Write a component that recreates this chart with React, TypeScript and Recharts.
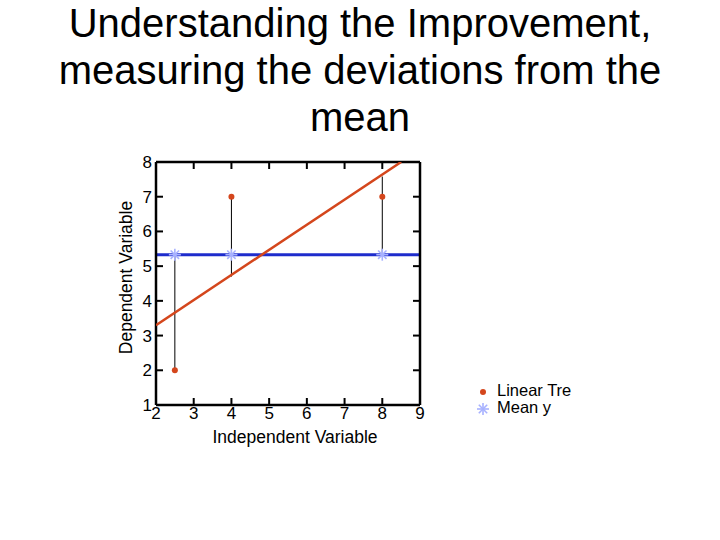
import { ComposedChart, Scatter, XAxis, YAxis, ReferenceLine } from 'recharts';

const FONT = '"Liberation Sans", Arial, sans-serif';

// observed points
const pointX = [2.5, 4, 8];
const pointY = [2, 7, 7];

// mean of y, drawn as a flat line plus markers at each x
const meanY = 5.33;
const meanX = [2.5, 4, 8];

// fitted trend, end points
const trendX = [2, 8.5];
const trendY = [3.3, 8];

// vertical deviation segments
const devX = [2.5, 4, 8];
const devFrom = [2, 4.7, 5.33];
const devTo = [5.33, 7, 7.58];

const xTicks = [2, 3, 4, 5, 6, 7, 8, 9];
const yTicks = [1, 2, 3, 4, 5, 6, 7, 8];

const RED = '#d4461c';
const BLUE = '#1e2ccc';
const STAR = '#a8b2ff';

const points = pointX.map((x, i) => ({ x, y: pointY[i] }));
const means = meanX.map((x) => ({ x, y: meanY }));
const trend = trendX.map((x, i) => ({ x, y: trendY[i] }));

const Asterisk = (props: any) => {
  const { cx, cy } = props;
  const r = 6;
  return (
    <g stroke={STAR} strokeWidth={1.6}>
      <line x1={cx - r} y1={cy} x2={cx + r} y2={cy} />
      <line x1={cx} y1={cy - r} x2={cx} y2={cy + r} />
      <line x1={cx - r * 0.7} y1={cy - r * 0.7} x2={cx + r * 0.7} y2={cy + r * 0.7} />
      <line x1={cx - r * 0.7} y1={cy + r * 0.7} x2={cx + r * 0.7} y2={cy - r * 0.7} />
    </g>
  );
};

const Dot = (props: any) => <circle cx={props.cx} cy={props.cy} r={3} fill={RED} />;
const NoShape = () => <g />;
const NoTick = () => <g />;

const tickStyle = { fontSize: 17, fill: '#000', fontFamily: FONT };
const frame = { stroke: '#000', strokeWidth: 2.5 };
const tickMark = { stroke: '#000', strokeWidth: 2 };

export default function App() {
  return (
    <div style={{ position: 'absolute', left: 0, top: 0, width: 720, height: 540, background: '#fff', fontFamily: FONT }}>
      <div
        style={{
          position: 'absolute',
          top: 0,
          left: 0,
          width: 720,
          textAlign: 'center',
          fontSize: 40,
          lineHeight: '47px',
          color: '#000',
        }}
      >
        Understanding the Improvement,
        <br />
        measuring the deviations from the
        <br />
        mean
      </div>

      <div style={{ position: 'absolute', left: 0, top: 0 }}>
        <ComposedChart width={720} height={540} margin={{ top: 162, right: 300, bottom: 105, left: 116 }}>
          {/* labelled axes */}
          <XAxis
            dataKey="x"
            type="number"
            domain={[2, 9]}
            ticks={xTicks}
            allowDataOverflow
            height={30}
            axisLine={frame}
            tickLine={false}
            tickSize={0}
            tickMargin={2}
            tick={tickStyle}
            label={{ value: 'Independent Variable', position: 'insideBottom', offset: -8, dx: 7, fontSize: 17.5, fill: '#000', fontFamily: FONT }}
          />
          <YAxis
            dataKey="y"
            type="number"
            domain={[1, 8]}
            ticks={yTicks}
            allowDataOverflow
            width={40}
            axisLine={frame}
            tickLine={false}
            tickSize={0}
            tickMargin={4}
            tick={tickStyle}
            label={{ value: 'Dependent Variable', angle: -90, position: 'insideLeft', offset: 10, dy: -6, fontSize: 17.5, fill: '#000', fontFamily: FONT, style: { textAnchor: 'middle' } }}
          />

          {/* inward tick marks on the bottom and left edges */}
          <XAxis xAxisId="bIn" dataKey="x" type="number" domain={[2, 9]} ticks={xTicks} allowDataOverflow mirror height={1} axisLine={false} tickLine={tickMark} tickSize={7} tick={NoTick} />
          <YAxis yAxisId="lIn" dataKey="y" type="number" domain={[1, 8]} ticks={yTicks} allowDataOverflow mirror width={1} axisLine={false} tickLine={tickMark} tickSize={7} tick={NoTick} />

          {/* top and right edges of the frame, inward ticks */}
          <XAxis xAxisId="top" dataKey="x" orientation="top" type="number" domain={[2, 9]} ticks={xTicks} allowDataOverflow mirror height={1} axisLine={frame} tickLine={tickMark} tickSize={7} tick={NoTick} />
          <YAxis yAxisId="right" dataKey="y" orientation="right" type="number" domain={[1, 8]} ticks={yTicks} allowDataOverflow mirror width={1} axisLine={frame} tickLine={tickMark} tickSize={7} tick={NoTick} />

          <ReferenceLine y={meanY} stroke={BLUE} strokeWidth={3} ifOverflow="hidden" />

          {devX.map((x, i) => (
            <ReferenceLine
              key={x}
              segment={[{ x, y: devFrom[i] }, { x, y: devTo[i] }]}
              stroke="#000"
              strokeWidth={1}
            />
          ))}

          <Scatter
            data={trend}
            line={{ stroke: RED, strokeWidth: 2.5 }}
            shape={NoShape}
            isAnimationActive={false}
          />
          <Scatter data={means} shape={Asterisk} isAnimationActive={false} />
          <Scatter data={points} shape={Dot} isAnimationActive={false} />

          {/* hidden series so the frame axes get a scale */}
          <Scatter data={points} xAxisId="bIn" yAxisId="lIn" shape={NoShape} isAnimationActive={false} />
          <Scatter data={points} xAxisId="top" yAxisId="right" shape={NoShape} isAnimationActive={false} />
        </ComposedChart>
      </div>

      <div style={{ position: 'absolute', left: 477, top: 382, fontSize: 16.5, color: '#000', lineHeight: '17px' }}>
        <div style={{ display: 'flex', alignItems: 'center' }}>
          <svg width={14} height={14}>
            <circle cx={6} cy={8} r={3} fill={RED} />
          </svg>
          <span style={{ marginLeft: 6 }}>Linear Tre</span>
        </div>
        <div style={{ display: 'flex', alignItems: 'center' }}>
          <svg width={14} height={14}>
            <Asterisk cx={6} cy={8} />
          </svg>
          <span style={{ marginLeft: 6 }}>Mean y</span>
        </div>
      </div>
    </div>
  );
}
